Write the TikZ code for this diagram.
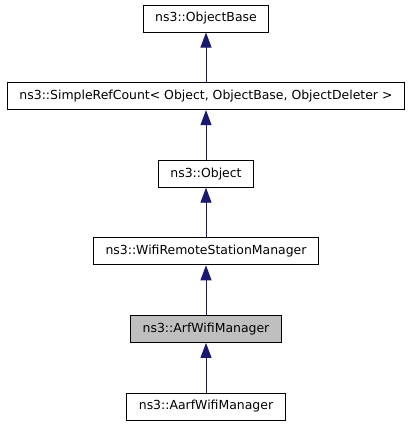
\documentclass[tikz,border=0pt]{standalone}
\usepackage{fontspec}
\setmainfont{DejaVu Sans}
\usetikzlibrary{positioning,arrows.meta}
\definecolor{edgeblue}{HTML}{191970}
\definecolor{curgray}{HTML}{BFBFBF}
\begin{document}
\begin{tikzpicture}[x=1bp, y=1bp, node distance = 49.6bp,
  cls/.style = {draw, line width=1bp, minimum height=27bp, inner xsep=12bp, font=\fontsize{12.5}{14}\selectfont},
  inh/.style = {draw=edgeblue, line width=0.9bp, fill=edgeblue, -{Triangle[length=15bp,width=11bp]}}]
\useasboundingbox (0,0) rectangle (413,-427);
\node (base) [cls] at (206,-18.5) {ns3::ObjectBase};
\node (refcount) [cls, below=of base] {ns3::SimpleRefCount< Object, ObjectBase, ObjectDeleter >};
\node (object) [cls, below=of refcount] {ns3::Object};
\node (remote) [cls, below=of object] {ns3::WifiRemoteStationManager};
\node (arf) [cls, fill=curgray, below=of remote] {ns3::ArfWifiManager};
\node (aarf) [cls, below=of arf] {ns3::AarfWifiManager};
% inheritance edges
\draw[inh] (refcount) -- (base);
\draw[inh] (object) -- (refcount);
\draw[inh] (remote) -- (object);
\draw[inh] (arf) -- (remote);
\draw[inh] (aarf) -- (arf);
\end{tikzpicture}
\end{document}
